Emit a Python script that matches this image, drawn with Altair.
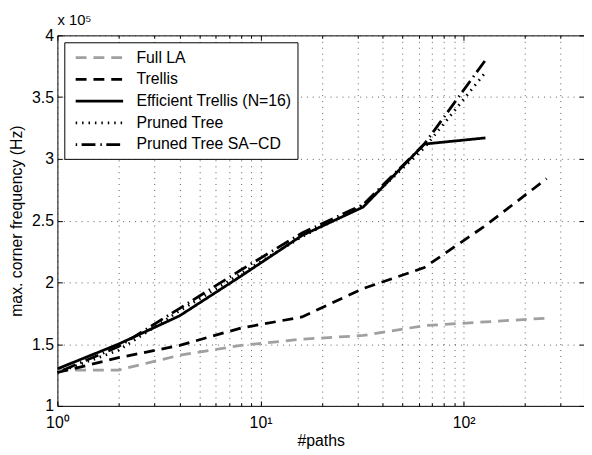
import altair as alt
import pandas as pd

# ---------------- data (values in units of 1e5 Hz) ----------------
paths_all = [1, 2, 4, 8, 16, 32, 64, 128, 256]
paths_128 = [1, 2, 4, 8, 16, 32, 64, 128]

full_la = [1.29, 1.29, 1.41, 1.49, 1.54, 1.57, 1.65, 1.68, 1.71]
trellis = [1.27, 1.39, 1.49, 1.63, 1.72, 1.95, 2.12, 2.46, 2.84]
eff_trellis = [1.30, 1.50, 1.73, 2.05, 2.38, 2.61, 3.12, 3.17]
pruned_tree = [1.27, 1.45, 1.77, 2.07, 2.37, 2.62, 3.09, 3.70]
pruned_sacd = [1.27, 1.48, 1.79, 2.10, 2.40, 2.63, 3.12, 3.80]

series_names = ["Full LA", "Trellis", "Efficient Trellis (N=16)", "Pruned Tree", "Pruned Tree SA\u2212CD"]
series_colors = ["#a0a0a0", "#000000", "#000000", "#000000", "#000000"]
series_dashes = [[11, 7], [11, 7], [1, 0], [1.5, 5], [1.5, 4.5, 14, 5]]
series_widths = [2.8, 2.8, 2.8, 1.0, 2.8]

x_ticks = [1, 2, 3, 4, 5, 6, 7, 8, 9, 10, 20, 30, 40, 50, 60, 70, 80, 90, 100, 200, 300]
y_ticks = [1, 1.5, 2, 2.5, 3, 3.5, 4]

rows = []
for name, xs, ys in [
    (series_names[0], paths_all, full_la),
    (series_names[1], paths_all, trellis),
    (series_names[2], paths_128, eff_trellis),
    (series_names[3], paths_128, pruned_tree),
    (series_names[4], paths_128, pruned_sacd),
]:
    for xv, yv in zip(xs, ys):
        rows.append({"paths": xv, "freq": yv, "series": name})
df = pd.DataFrame(rows)

W, H = 533, 375
FONT = "Liberation Sans"

xscale = alt.Scale(type="log", domain=[1, 391], nice=False)
yscale = alt.Scale(domain=[1, 4], nice=False, zero=False)

major_test = "datum.value == 1 || datum.value == 10 || datum.value == 100"
label_expr = ("datum.value == 1 ? '10\u2070' : datum.value == 10 ? '10\u00b9' : "
              "datum.value == 100 ? '10\u00b2' : ''")

legend = alt.Legend(
    title=None, orient="none", legendX=7, legendY=7,
    symbolType="M-0.5,0H5.5", symbolSize=256, labelFontSize=16, labelFont=FONT,
    labelColor="black", strokeColor="black", fillColor="white", padding=6,
    rowPadding=4, labelOffset=48, labelLimit=300,
)

main_x_axis = alt.Axis(
    values=x_ticks, labelExpr=label_expr, grid=True, ticks=False, domain=False,
    labelFontSize=16, labelFont=FONT, labelColor="black", labelPadding=9,
    title="#paths", titleFontSize=16, titleFont=FONT, titleFontWeight="normal",
    titleColor="black", titlePadding=2, labelFlush=False, labelOverlap=False,
)
main_y_axis = alt.Axis(
    values=y_ticks, format="~g", grid=True, ticks=False, domain=False,
    labelFontSize=16, labelFont=FONT, labelColor="black", labelPadding=4,
    title="max. corner frequency (Hz)", titleFontSize=16, titleFont=FONT,
    titleFontWeight="normal", titleColor="black", titlePadding=7,
)

lines = alt.Chart(df).mark_line(clip=True).encode(
    x=alt.X("paths:Q", scale=xscale, axis=main_x_axis),
    y=alt.Y("freq:Q", scale=yscale, axis=main_y_axis),
    color=alt.Color("series:N", scale=alt.Scale(domain=series_names, range=series_colors),
                    sort=series_names, legend=legend),
    strokeDash=alt.StrokeDash("series:N", scale=alt.Scale(domain=series_names, range=series_dashes),
                              sort=series_names, legend=legend),
    strokeWidth=alt.StrokeWidth("series:N", scale=alt.Scale(domain=series_names, range=series_widths),
                                sort=series_names, legend=legend),
)


def tick_axis_x(orient):
    return alt.Axis(
        orient=orient, offset=-H, values=x_ticks, labels=False, grid=False, domain=False,
        title=None, tickColor="black", tickWidth=1,
        tickSize={"condition": {"test": major_test, "value": 5}, "value": 3},
    )


def tick_axis_y(orient):
    return alt.Axis(
        orient=orient, offset=-W, values=y_ticks, labels=False, grid=False, domain=False,
        title=None, tickColor="black", tickWidth=1, tickSize=5,
    )


ticks_a = alt.Chart(df).mark_line(opacity=0).encode(
    x=alt.X("paths:Q", scale=xscale, axis=tick_axis_x("top")),
    y=alt.Y("freq:Q", scale=yscale, axis=tick_axis_y("right")),
)
ticks_b = alt.Chart(df).mark_line(opacity=0).encode(
    x=alt.X("paths:Q", scale=xscale, axis=tick_axis_x("bottom")),
    y=alt.Y("freq:Q", scale=yscale, axis=tick_axis_y("left")),
)

chart = alt.layer(lines, ticks_a, ticks_b).resolve_scale(
    x="shared", y="shared"
).resolve_axis(
    x="independent", y="independent"
).properties(
    width=W, height=H,
    title=alt.Title("x 10\u2075", anchor="start", frame="group", fontSize=15, font=FONT,
                    fontWeight="normal", color="black", offset=0),
    autosize=alt.AutoSizeParams(type="none"),
    padding={"left": 50, "top": 25, "right": 0, "bottom": 46},
).configure_view(
    stroke="black", strokeWidth=1
).configure_axis(
    gridColor="#333333", gridDash=[1, 5], gridWidth=1, gridOpacity=0.8
)

chart.save("out.html", embed_options={"renderer": "svg", "actions": False})
